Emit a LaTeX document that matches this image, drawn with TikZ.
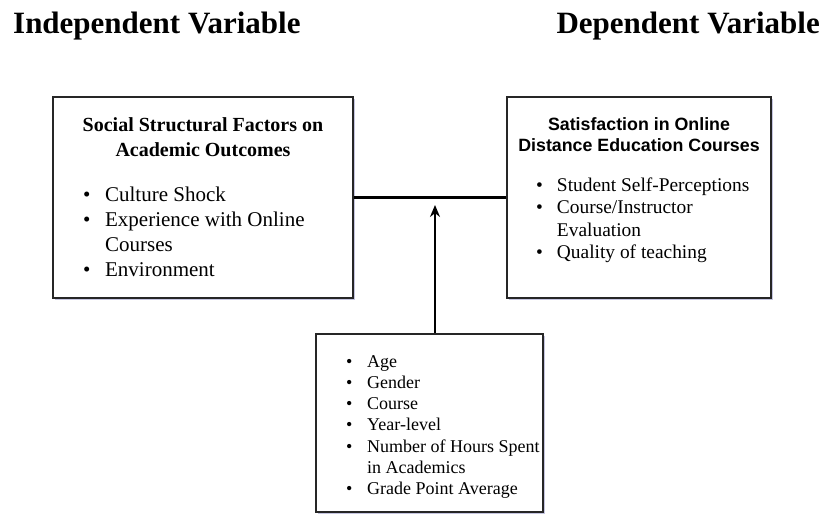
\documentclass[tikz,border=0pt]{standalone}
\usepackage{fontspec}
\setmainfont{Liberation Serif}
\newfontfamily\headsans{Liberation Sans}
\usetikzlibrary{arrows.meta,shadows}

\begin{document}
\begin{tikzpicture}[x=1pt,y=-1pt,
  box/.style={draw=black!85,line width=2pt,fill=white,inner sep=0pt,
    drop shadow={shadow xshift=2pt,shadow yshift=-2pt,opacity=0.35,fill=blue!30!gray}},
  list/.style={inner sep=0pt,anchor=base west,align=left},
  head/.style={inner sep=0pt,font=\fontsize{31}{36}\selectfont\bfseries},
  link/.style={draw=black,line width=3pt},
  pointer/.style={draw=black,line width=2pt,-{Stealth[length=12pt,width=10pt]}}]
\useasboundingbox (0,0) rectangle (827,514);
\node[head,anchor=base west] (indep) at (13,33) {Independent Variable};
\node[head,anchor=base east] (dep) at (820,33) {Dependent Variable};

\node[box,minimum width=300,minimum height=201] (social) at (203,197.5) {};
\node[box,minimum width=264,minimum height=201] (satis) at (639,197.5) {};
\node[box,minimum width=227,minimum height=178] (profile) at (429.5,423) {};

\draw[link] (social) -- (satis);
\coordinate (tip) at (435,205);
\draw[pointer] (profile.north -| tip) -- (tip);

\node[inner sep=0pt,anchor=base,font=\fontsize{20}{25}\selectfont\bfseries] (socialtitle) at (203,131)
  {\begin{tabular}[t]{@{}c@{}}Social Structural Factors on\\Academic Outcomes\end{tabular}};
\node[list,font=\fontsize{21}{25}\selectfont] (sociallist) at (83,201)
  {\begin{tabular}[t]{@{}l@{\hspace{14.6pt}}l@{}}
  \textbullet & Culture Shock\\
  \textbullet & Experience with Online\\
              & Courses\\
  \textbullet & Environment
  \end{tabular}};

\node[inner sep=0pt,anchor=base,font=\headsans\fontsize{17.8}{21}\selectfont\bfseries] (satistitle) at (639,130)
  {\begin{tabular}[t]{@{}c@{}}Satisfaction in Online\\Distance Education Courses\end{tabular}};
\node[list,font=\fontsize{19.4}{22.5}\selectfont] (satislist) at (536,191)
  {\begin{tabular}[t]{@{}l@{\hspace{14pt}}l@{}}
  \textbullet & Student Self-Perceptions\\
  \textbullet & Course/Instructor\\
              & Evaluation\\
  \textbullet & Quality of teaching
  \end{tabular}};

\node[list,font=\fontsize{18}{21.3}\selectfont] (profilelist) at (346,367)
  {\begin{tabular}[t]{@{}l@{\hspace{14.7pt}}l@{}}
  \textbullet & Age\\
  \textbullet & Gender\\
  \textbullet & Course\\
  \textbullet & Year-level\\
  \textbullet & Number of Hours Spent\\
              & in Academics\\
  \textbullet & Grade Point Average
  \end{tabular}};
\end{tikzpicture}
\end{document}
